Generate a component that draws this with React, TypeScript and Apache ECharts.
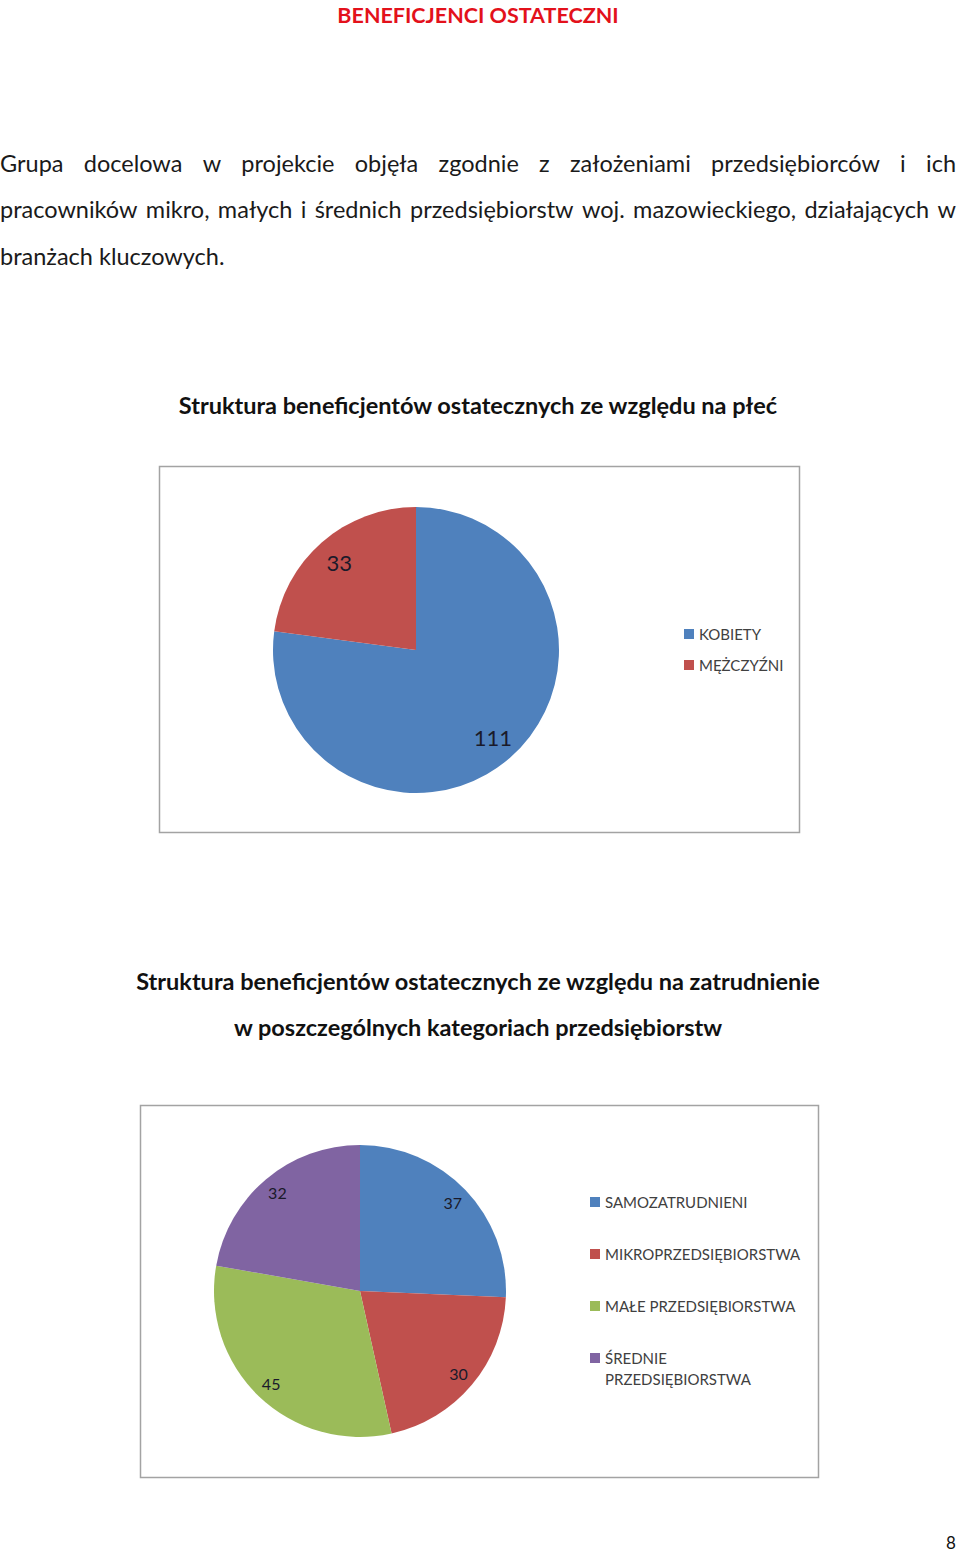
import React, { useEffect, useRef } from 'react';
import * as echarts from 'echarts';

const pageTitle = 'BENEFICJENCI OSTATECZNI';
const paragraphLines = [
  'Grupa docelowa w projekcie objęła zgodnie z założeniami przedsiębiorców i ich',
  'pracowników mikro, małych i średnich przedsiębiorstw woj. mazowieckiego, działających w',
  'branżach kluczowych.',
];
const chart1Title = 'Struktura beneficjentów ostatecznych ze względu na płeć';
const chart2TitleLines = [
  'Struktura beneficjentów ostatecznych ze względu na zatrudnienie',
  'w poszczególnych kategoriach przedsiębiorstw',
];
const genderCategories = ['KOBIETY', 'MĘŻCZYŹNI'];
const genderValues = [111, 33];
const companyCategories = [
  'SAMOZATRUDNIENI',
  'MIKROPRZEDSIĘBIORSTWA',
  'MAŁE PRZEDSIĘBIORSTWA',
  'ŚREDNIE PRZEDSIĘBIORSTWA',
];
const companyValues = [37, 30, 45, 32];
const pageNumber = '8';

const COLORS = ['#4F81BD', '#C0504D', '#9BBB59', '#8064A2'];
const FONT = 'Lato';

function measure(text: string, size: number, weight: string) {
  const c = document.createElement('canvas').getContext('2d')!;
  c.font = `${weight} ${size}px ${FONT}`;
  return c.measureText(text).width;
}

function justifiedLine(text: string, y: number, left: number, right: number, size: number, color: string) {
  const words = text.split(' ');
  const widths = words.map((w) => measure(w, size, 'normal'));
  const total = widths.reduce((a, b) => a + b, 0);
  const gap = (right - left - total) / (words.length - 1);
  let x = left;
  return words.map((w, i) => {
    const el = {
      type: 'text',
      x,
      y,
      style: { text: w, fontFamily: FONT, fontSize: size, fill: color, align: 'left', verticalAlign: 'middle' },
    };
    x += widths[i] + gap;
    return el;
  });
}

function textEl(text: string, x: number, y: number, size: number, weight: string, color: string, align = 'center') {
  return {
    type: 'text',
    x,
    y,
    style: { text, fontFamily: FONT, fontSize: size, fontWeight: weight, fill: color, align, verticalAlign: 'middle' },
  };
}

export default function App() {
  const ref = useRef<HTMLDivElement>(null);
  useEffect(() => {
    if (!ref.current) return;
    const chart = echarts.init(ref.current, undefined, { renderer: 'svg' });
    const bodySize = 23.5;
    const graphic: any[] = [
      textEl(pageTitle, 478, 14.5, 21.5, 'bold', '#E3111B'),
      ...justifiedLine(paragraphLines[0], 163, 0, 956, bodySize, '#1a1a1a'),
      ...justifiedLine(paragraphLines[1], 209, 0, 956, bodySize, '#1a1a1a'),
      textEl(paragraphLines[2], 0, 256, bodySize, 'normal', '#1a1a1a', 'left'),
      textEl(chart1Title, 478, 405, 23.5, 'bold', '#111'),
      textEl(chart2TitleLines[0], 478, 981, 23.5, 'bold', '#111'),
      textEl(chart2TitleLines[1], 478, 1027, 23.5, 'bold', '#111'),
      textEl(pageNumber, 951, 1542, 17, 'normal', '#111'),
      {
        type: 'rect',
        shape: { x: 159.5, y: 466.5, width: 640, height: 366 },
        style: { fill: 'none', stroke: '#a3a3a3', lineWidth: 1.5 },
        z: -1,
      },
      {
        type: 'rect',
        shape: { x: 140.5, y: 1105.5, width: 678, height: 372 },
        style: { fill: 'none', stroke: '#a3a3a3', lineWidth: 1.5 },
        z: -1,
      },
    ];

    const genderData = genderCategories.map((name, i) => ({ name, value: genderValues[i], itemStyle: { color: COLORS[i] } }));
    const companyData = companyCategories.map((name, i) => ({ name, value: companyValues[i], itemStyle: { color: COLORS[i] } }));

    const baseSeries = {
      type: 'pie',
      startAngle: 90,
      clockwise: true,
      label: { show: false },
      labelLine: { show: false },
      emphasis: { disabled: true },
      itemStyle: { borderWidth: 0 },
    };
    const labelSeries = {
      type: 'pie',
      startAngle: 90,
      clockwise: true,
      silent: true,
      emphasis: { disabled: true },
      labelLine: { show: false },
      itemStyle: { color: 'transparent', borderWidth: 0 },
    };
    const legendText = { fontFamily: FONT, fontSize: 15, color: '#404040', lineHeight: 21 };
    const legendBase = {
      orient: 'vertical',
      padding: 0,
      itemWidth: 10,
      itemHeight: 10,
      icon: 'rect',
      selectedMode: false,
    };

    chart.setOption({
      animation: false,
      graphic,
      legend: [
        {
          ...legendBase,
          left: 684,
          top: 623.5,
          itemGap: 10,
          data: genderCategories,
          textStyle: legendText,
        },
        {
          ...legendBase,
          left: 590,
          top: 1191.5,
          itemGap: 31,
          data: companyCategories.slice(0, 3),
          textStyle: legendText,
        },
        {
          ...legendBase,
          left: 590,
          top: 1326.5,
          data: companyCategories.slice(3),
          formatter: (name: string) => '\n' + name.replace(' ', '\n'),
          textStyle: legendText,
        },
      ],
      series: [
        { ...baseSeries, name: 'płeć', center: [416, 650], radius: 143, data: genderData },
        { ...baseSeries, name: 'zatrudnienie', center: [360, 1291], radius: 146, data: companyData },
        {
          ...labelSeries,
          name: 'płeć-etykiety',
          center: [416, 650],
          radius: [84, 143],
          data: genderData.map((d) => ({ ...d, itemStyle: { color: 'transparent' } })),
          label: { show: true, position: 'inside', formatter: '{c}', fontFamily: FONT, fontSize: 22, color: '#1a1a2a' },
        },
        {
          ...labelSeries,
          name: 'zatrudnienie-etykiety',
          center: [360, 1291],
          radius: [105, 146],
          data: companyData.map((d) => ({ ...d, itemStyle: { color: 'transparent' } })),
          label: { show: true, position: 'inside', formatter: '{c}', fontFamily: FONT, fontSize: 16, color: '#1a1a2a' },
        },
      ],
    });
    return () => chart.dispose();
  }, []);
  return (
    <div
      ref={ref}
      style={{ position: 'absolute', left: 0, top: 0, width: 960, height: 1552, background: '#fff' }}
    />
  );
}
